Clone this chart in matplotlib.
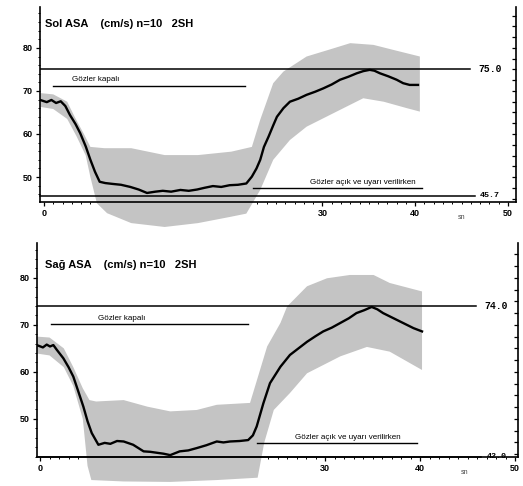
import numpy as np
import matplotlib
matplotlib.use("Agg")
import matplotlib.pyplot as plt
from matplotlib.ticker import MultipleLocator

plt.rcParams["font.family"] = ["Liberation Sans", "DejaVu Sans"]

# ---- Sol ASA (upper panel) ----
t_sol = [-0.4, 0.3, 0.8, 1.3, 1.8, 2.3, 2.8, 3.4, 3.9, 4.5, 5.0, 5.5, 6.0, 6.6, 7.4,
         8.3, 9.3, 10.2, 11.1, 12.0, 12.8, 13.7, 14.7, 15.6, 16.5, 17.3, 18.2, 19.1, 20.0, 20.9,
         21.8, 22.4, 22.9, 23.3, 23.7, 24.2, 24.7, 25.1, 25.8, 26.5, 27.4, 28.3, 29.2, 30.1, 31.0,
         31.9, 32.8, 33.7, 34.4, 35.1, 35.6, 36.2, 37.1, 38.0, 38.7, 39.4, 40.3]
mean_sol = [67.9, 67.4, 67.9, 67.2, 67.6, 66.5, 64.4, 62.3, 60.2, 57.1, 54.0, 51.2, 48.9, 48.6, 48.4,
            48.2, 47.7, 47.1, 46.3, 46.6, 46.8, 46.6, 47.0, 46.8, 47.1, 47.5, 47.9, 47.7, 48.1, 48.2,
            48.5, 50.1, 52.0, 54.0, 57.0, 59.4, 62.0, 64.0, 66.0, 67.5, 68.2, 69.1, 69.8, 70.6, 71.5,
            72.6, 73.3, 74.1, 74.6, 74.9, 74.7, 74.1, 73.4, 72.6, 71.8, 71.4, 71.4]
t_sol_up = [-0.4, 1.0, 2.5, 3.3, 4.3, 5.0, 6.5, 9.4, 13.0, 16.6, 20.2, 22.4, 23.3, 24.7, 25.8,
            28.3, 31.2, 33.0, 35.5, 37.7, 40.5]
upper_sol = [69.5, 69.2, 67.5, 64.0, 60.0, 57.0, 56.7, 56.7, 55.1, 55.1, 55.9, 57.0, 63.3, 71.8, 74.5,
             78.0, 79.9, 81.1, 80.7, 79.5, 78.0]
t_sol_lo = [-0.4, 1.0, 2.5, 3.5, 4.5, 5.0, 5.7, 6.8, 9.4, 13.0, 16.6, 20.2, 21.8, 23.3, 24.7,
            26.5, 28.3, 31.9, 34.4, 36.6, 39.1, 40.5]
lower_sol = [66.3, 65.8, 63.5, 59.5, 55.0, 50.0, 43.9, 41.6, 39.3, 38.4, 39.3, 40.8, 41.5, 47.0, 54.0,
             58.6, 61.7, 65.6, 68.3, 67.5, 66.0, 65.2]

# ---- Sağ ASA (lower panel) ----
t_sag = [-0.35, 0.3, 0.7, 1.05, 1.4, 1.76, 2.45, 3.0, 3.5, 4.0, 4.56, 5.0, 5.44, 6.14, 6.8,
         7.4, 8.1, 8.8, 9.8, 10.9, 11.6, 12.3, 13.0, 13.7, 14.7, 15.6, 16.5, 17.5, 18.6, 19.3,
         20.0, 21.0, 21.9, 22.4, 22.8, 23.5, 24.2, 25.3, 26.3, 27.2, 28.1, 29.0, 29.8, 30.7, 31.6,
         32.5, 33.3, 34.1, 34.9, 35.5, 36.1, 37.0, 37.9, 38.6, 39.3, 40.2]
mean_sag = [65.7, 65.2, 65.8, 65.4, 65.7, 64.7, 62.9, 61.0, 59.0, 56.0, 52.6, 49.5, 47.0, 44.5, 44.9,
            44.7, 45.3, 45.2, 44.5, 43.1, 43.0, 42.8, 42.6, 42.3, 43.1, 43.3, 43.8, 44.4, 45.2, 45.0,
            45.2, 45.3, 45.5, 46.5, 48.4, 53.3, 57.6, 61.1, 63.6, 65.0, 66.4, 67.6, 68.6, 69.4, 70.4,
            71.4, 72.5, 73.1, 73.8, 73.3, 72.5, 71.6, 70.7, 70.0, 69.3, 68.6]
t_sag_up = [-0.35, 1.0, 2.5, 3.5, 4.5, 5.2, 5.9, 8.8, 11.3, 13.7, 16.5, 18.6, 22.1, 23.9, 25.3,
            26.0, 28.1, 30.2, 32.6, 35.1, 36.8, 40.2]
upper_sag = [67.5, 67.3, 65.0, 61.0, 56.5, 54.0, 53.7, 54.0, 52.6, 51.6, 51.9, 53.0, 53.4, 65.4, 70.4,
             73.9, 78.2, 79.9, 80.6, 80.6, 78.9, 77.1]
t_sag_lo = [-0.35, 1.0, 2.5, 3.5, 4.5, 5.0, 5.4, 8.8, 13.7, 18.6, 22.9, 23.6, 24.6, 26.3, 28.1,
            31.6, 34.4, 36.8, 40.2]
lower_sag = [63.9, 63.5, 61.0, 57.0, 50.0, 40.0, 37.0, 36.7, 36.6, 37.0, 37.5, 45.0, 51.9, 55.5, 59.7,
             63.3, 65.3, 64.3, 60.4]

xticks = [0, 10, 20, 30, 40, 50]


def draw_panel(ax, title, t, mean, t_up, up, t_lo, lo, xlim, ylim, yticks,
               max_val, max_label, min_val, min_label,
               closed_y, closed_x, closed_txt_x, open_y, open_x, open_txt_x,
               title_xy, unit_xy):
    ax.set_xlim(*xlim)
    ax.set_ylim(*ylim)

    # grey +/- band, not clipped (it spills below the axis)
    band_x = np.r_[t_up, t_lo[::-1]]
    band_y = np.r_[up, lo[::-1]]
    ax.fill(band_x, band_y, color="#c4c4c4", lw=0, zorder=2, clip_on=False)
    ax.plot(t, mean, color="black", lw=1.7, zorder=4)

    # reference lines
    ax.plot([xlim[0], 45.9], [max_val, max_val], color="black", lw=1.1, zorder=3)
    ax.text(46.8, max_val, max_label, fontsize=7, fontweight="bold",
            family="Liberation Mono", va="center", ha="left")
    ax.plot([xlim[0], 46.4], [min_val, min_val], color="black", lw=1.1, zorder=3, clip_on=False)
    ax.text(47.0, min_val, min_label, fontsize=6, fontweight="bold",
            family="Liberation Mono", va="center", ha="left")

    ax.plot(closed_x, [closed_y, closed_y], color="black", lw=1.0, zorder=3)
    ax.text(closed_txt_x, closed_y + 0.6, "Gözler kapalı", fontsize=5.8,
            ha="center", va="bottom")
    ax.plot(open_x, [open_y, open_y], color="black", lw=1.0, zorder=3)
    ax.text(open_txt_x, open_y + 0.6, "Gözler açık ve uyarı verilirken", fontsize=5.8,
            ha="center", va="bottom", zorder=5)

    ax.text(title_xy[0], title_xy[1], title, fontsize=8, fontweight="bold",
            ha="left", va="center")
    ax.text(unit_xy[0], unit_xy[1], "sn", fontsize=5, ha="center", va="center",
            color="#444444", clip_on=False)

    for side in ["top"]:
        ax.spines[side].set_visible(False)
    for side in ["left", "bottom", "right"]:
        ax.spines[side].set_linewidth(1.2)
        ax.spines[side].set_zorder(5)

    ax.set_xticks(xticks)
    ax.set_xticklabels([str(v) for v in xticks], fontsize=6.5, fontweight="bold")
    ax.xaxis.set_minor_locator(MultipleLocator(1))
    ax.set_yticks(yticks)
    ax.set_yticklabels([str(v) for v in yticks], fontsize=6.5, fontweight="bold")
    ax.yaxis.set_minor_locator(MultipleLocator(2))
    ax.tick_params(axis="both", which="major", direction="out", length=3, width=0.9, pad=2)
    ax.tick_params(axis="both", which="minor", direction="out", length=1.5, width=0.7)

    rx = ax.twinx()
    rx.set_ylim(*ylim)
    rx.yaxis.set_major_locator(MultipleLocator(2.5))
    rx.tick_params(axis="y", direction="in", length=3, width=0.9, labelright=False)
    for side in ["top", "left", "bottom"]:
        rx.spines[side].set_visible(False)
    rx.spines["right"].set_visible(False)


fig = plt.figure(figsize=(5.23, 4.86), dpi=100)

ax1 = fig.add_axes([40 / 523, 1 - 202 / 486, 476 / 523, 195 / 486])
draw_panel(ax1, "Sol ASA    (cm/s) n=10   2SH", t_sol, mean_sol,
           t_sol_up, upper_sol, t_sol_lo, lower_sol,
           (-0.43, 50.86), (44.2, 89.5), [50, 60, 70, 80],
           75.0, "75.0", 45.6, "45.7",
           71.2, [1.0, 21.7], 5.6, 47.4, [22.5, 40.7], 34.3,
           (0.1, 85.6), (45.0, 40.5))

ax2 = fig.add_axes([37 / 523, 1 - 457 / 486, 481 / 523, 214 / 486])
draw_panel(ax2, "Sağ ASA    (cm/s) n=10   2SH", t_sag, mean_sag,
           t_sag_up, upper_sag, t_sag_lo, lower_sag,
           (-0.32, 50.3), (41.9, 87.4), [50, 60, 70, 80],
           74.0, "74.0", 42.0, "42.0",
           70.1, [1.2, 21.9], 8.6, 44.8, [22.8, 39.7], 32.4,
           (0.5, 82.8), (44.7, 38.5))

# right spines drawn on main axes
for ax in (ax1, ax2):
    ax.spines["right"].set_visible(True)

fig.savefig("out.png", dpi=100)
